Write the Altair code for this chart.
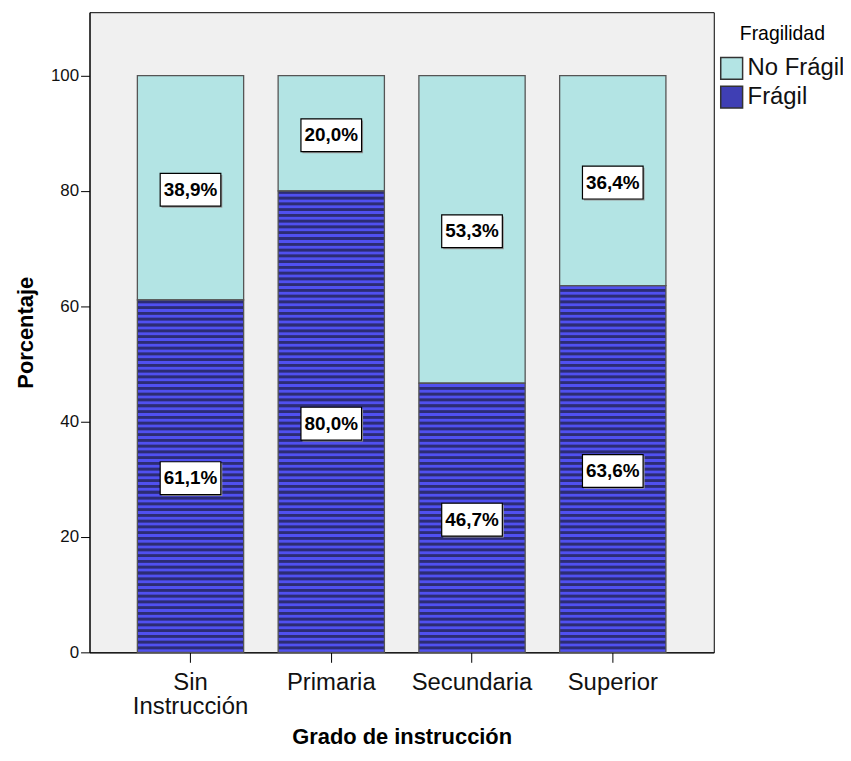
import altair as alt
import pandas as pd

# ---- data ----
grados = ["Sin Instrucción", "Primaria", "Secundaria", "Superior"]
fragil = [61.1, 80.0, 46.7, 63.6]
no_fragil = [38.9, 20.0, 53.3, 36.4]
series = ["No Frágil", "Frágil"]
y_ticks = [0, 20, 40, 60, 80, 100]

# ---- styling constants ----
W, H = 628, 644
YMAX = 111
PX = H / YMAX
CYAN = "#b3e4e4"
BLUE = "#5050f0"
DARK = "#2c2c74"
MIX = "#3f3fb4"
EDGE = "#555555"
FONT = "Liberation Sans"
PAD_IN, PAD_OUT = 0.245, 0.34
BANDW = W / (len(grados) - PAD_IN + 2 * PAD_OUT) * (1 - PAD_IN)

rows = []
for g, f, nf in zip(grados, fragil, no_fragil):
    rows.append({"grado": g, "serie": "Frágil", "pct": f, "start": 0.0, "end": f})
    rows.append({"grado": g, "serie": "No Frágil", "pct": nf, "start": f, "end": f + nf})
df = pd.DataFrame(rows)
df["mid"] = (df["start"] + df["end"]) / 2
df["label"] = df["pct"].map(lambda v: f"{v:.1f}".replace(".", ",") + "%")

x_enc = alt.X(
    "grado:N",
    sort=grados,
    scale=alt.Scale(paddingInner=PAD_IN, paddingOuter=PAD_OUT),
    axis=alt.Axis(
        title="Grado de instrucción",
        labelAngle=0,
        labelFontSize=24,
        labelPadding=8,
        labelLineHeight=25,
        labelExpr="split(datum.label, ' ')",
        tickSize=10,
        titleFontSize=22,
        titleFontWeight="bold",
        titleY=92,
        titleBaseline="alphabetic",
    ),
)
y_scale = alt.Scale(domain=[0, YMAX], nice=False)

base = alt.Chart(df)

bars = base.mark_bar(strokeWidth=0).encode(
    x=x_enc,
    y=alt.Y(
        "start:Q",
        scale=y_scale,
        axis=alt.Axis(
            title="Porcentaje",
            values=y_ticks,
            tickSize=9,
            labelFontSize=17,
            labelPadding=2,
            titleFontSize=22,
            titleFontWeight="bold",
            titleX=-64,
            titleBaseline="middle",
        ),
    ),
    y2="end:Q",
    color=alt.Color(
        "serie:N",
        scale=alt.Scale(domain=series, range=[CYAN, MIX]),
        legend=alt.Legend(
            title="Fragilidad",
            orient="none",
            legendX=634,
            legendY=13,
            titleAnchor="middle",
            titleFontSize=19.5,
            titleFontWeight="normal",
            titlePadding=12,
            labelFontSize=24,
            labelOffset=4,
            symbolType="square",
            symbolSize=484,
            symbolStrokeColor="#333333",
            symbolStrokeWidth=1.5,
            rowPadding=1,
        ),
    ),
)

fr = base.transform_filter(alt.datum.serie == "Frágil")
stripe_blue = fr.mark_rule(
    stroke=BLUE, strokeWidth=BANDW, strokeDash=[PX * 0.52, PX * 0.48]
).encode(x=x_enc, y=alt.Y("start:Q", scale=y_scale), y2="end:Q")
stripe_dark = fr.mark_rule(
    stroke=DARK, strokeWidth=BANDW, strokeDash=[PX * 0.48, PX * 0.52],
    strokeDashOffset=PX * 0.48
).encode(x=x_enc, y=alt.Y("start:Q", scale=y_scale), y2="end:Q")

outline = base.mark_bar(fillOpacity=0, stroke=EDGE, strokeWidth=1.3).encode(
    x=x_enc, y=alt.Y("start:Q", scale=y_scale), y2="end:Q"
)

BOX = "M-1,-0.541L1,-0.541L1,0.541L-1,0.541Z"
shadow = base.mark_point(
    shape=BOX, size=61 * 61, filled=True, fill="#9a9a9a", opacity=1,
    xOffset=1.5, yOffset=3.5, strokeWidth=0
).encode(x=x_enc, y=alt.Y("mid:Q", scale=y_scale))
box = base.mark_point(
    shape=BOX, size=61 * 61, filled=True, fill="white", opacity=1,
    stroke="black", strokeWidth=1.2, yOffset=2
).encode(x=x_enc, y=alt.Y("mid:Q", scale=y_scale))
text = base.mark_text(
    font=FONT, fontSize=19, fontWeight="bold", color="black",
    baseline="middle", dy=2
).encode(x=x_enc, y=alt.Y("mid:Q", scale=y_scale), text="label:N")

chart = (
    alt.layer(bars, stripe_blue, stripe_dark, outline, shadow, box, text)
    .properties(
        width=W,
        height=H,
        autosize=alt.AutoSizeParams(type="none"),
        padding={"left": 82, "top": 2, "right": 130, "bottom": 94},
        background="white",
    )
    .configure_view(stroke="black", strokeWidth=1, fill="#f0f0f0")
    .configure_axis(
        grid=False,
        domainColor="black",
        tickColor="black",
        labelColor="#111111",
        titleColor="black",
        labelFont=FONT,
        titleFont=FONT,
    )
    .configure_legend(labelFont=FONT, titleFont=FONT, labelColor="#111111", titleColor="black")
)

chart.save("out.html", embed_options={"renderer": "svg", "actions": False})
